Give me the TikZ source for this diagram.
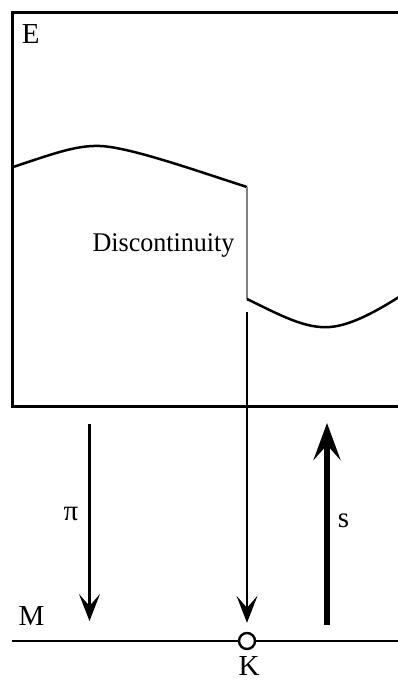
\documentclass[tikz,border=0pt]{standalone}
\usepackage{fontspec}
\setmainfont{Liberation Serif}
\usetikzlibrary{arrows.meta}
\tikzset{
  lbl/.style={font=\fontsize{29}{33}\selectfont, inner sep=0pt},
  disclbl/.style={font=\fontsize{27}{31}\selectfont, inner sep=0pt},
  thinarrow/.style={line width=2.5pt, -{Stealth[length=27pt,width=21pt,inset=12pt]}},
  thickarrow/.style={line width=6pt, -{Stealth[length=37pt,width=27pt,inset=15pt]}},
  curve/.style={line width=2.5pt},
}
\begin{document}
\begin{tikzpicture}[x=1pt,y=-1pt,line width=2.5pt]
\clip (0,0) rectangle (398,682);
\fill[white] (0,0) rectangle (398,682);
% total space box
\draw[line join=miter] (430,12.5) -- (12.7,12.5) -- (12.7,406.5) -- (430,406.5);
% section curves
\draw[curve] (13,167) .. controls (50,155) and (75,145) .. (100,146)
  .. controls (130,147) and (200,172) .. (247,187);
\draw[line width=2.2pt, gray] (247,187) -- (247,299);
\draw[curve] (247,299) .. controls (280,315) and (305,329) .. (330,327)
  .. controls (355,325) and (385,306) .. (410,290);
% labels
\node[lbl, anchor=base west] (E) at (20.5,43.5) {E};
\node[disclbl, anchor=base] (disc) at (163.5,251) {\scalebox{0.965}[1]{Discontinuity}};
% base line M
\coordinate (mL) at (12,641);
\coordinate (mR) at (410,641);
\draw (mL) -- (mR);
\node[draw, fill=white, circle, line width=2.4pt, minimum size=16pt, inner sep=0pt] (k) at (247,641) {};
\node[lbl, anchor=base] (K) at (249,675.5) {K};
\node[lbl, anchor=base] (M) at (31.5,625) {M};
% arrows
\coordinate (kTop) at (247,312);
\draw[thinarrow, shorten >=9pt] (kTop) -- (k);
\coordinate (piTop) at (89.5,424);
\coordinate (piBot) at (89.5,621);
\draw[thinarrow] (piTop) -- (piBot);
\node[lbl, anchor=base] (pi) at (71,520.5) {π};
\coordinate (sBot) at (327,625);
\coordinate (sTop) at (327,423);
\draw[thickarrow] (sBot) -- (sTop);
\node[lbl, anchor=base] (s) at (343.5,527) {s};
\end{tikzpicture}
\end{document}
